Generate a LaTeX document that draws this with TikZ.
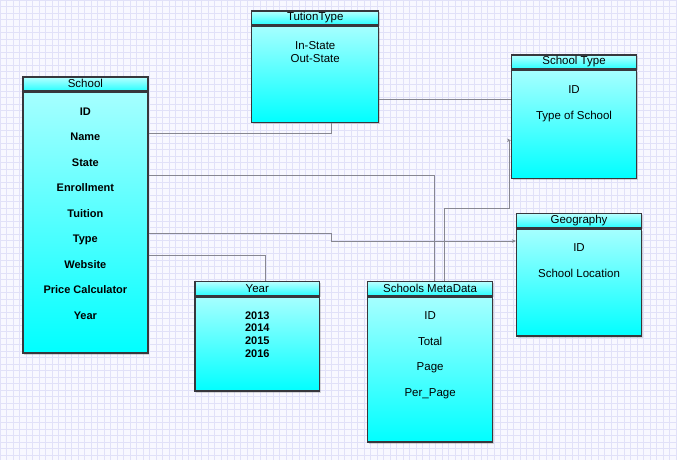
\documentclass[tikz,border=0pt]{standalone}
\usepackage{fontspec}
\setmainfont{Liberation Sans}
\usetikzlibrary{positioning,arrows.meta,shadows}
\definecolor{PaperBg}{RGB}{248,248,255}
\definecolor{GridLav}{RGB}{225,225,248}
\definecolor{LinkGray}{RGB}{135,135,145}
\definecolor{BoxEdge}{RGB}{55,55,60}

\begin{document}
\begin{tikzpicture}[
    x=1pt, y=-1pt,
    font=\fontsize{11.5}{13}\selectfont,
    >={Stealth[length=4pt,width=3.5pt]},
    thead/.style={
        draw=BoxEdge,
        line width=1.4pt,
        top color=cyan!28!white,
        bottom color=cyan!85!white,
        minimum width=125pt,
        minimum height=14pt,
        inner sep=0pt,
        anchor=north west,
        drop shadow={opacity=0.3,shadow xshift=1.5pt,shadow yshift=-1.5pt}
    },
    tbody/.style={
        draw=BoxEdge,
        line width=1.4pt,
        top color=cyan!35!white,
        bottom color=cyan,
        minimum width=125pt,
        inner sep=0pt,
        anchor=north west,
        drop shadow={opacity=0.3,shadow xshift=1.5pt,shadow yshift=-1.5pt}
    },
    fields/.style={
        align=center,
        inner sep=0pt
    },
    link/.style={
        draw=LinkGray,
        line width=0.8pt
    }
]

% paper and grid
\fill[PaperBg] (0,0) rectangle (677,460);
\foreach \gx in {0,6.5,...,677} \draw[GridLav, line width=0.5pt] (\gx,0) -- (\gx,460);
\foreach \gy in {0,6.5,...,460} \draw[GridLav, line width=0.5pt] (0,\gy) -- (677,\gy);
\useasboundingbox (0,0) rectangle (677,460);

% tables
\node[thead] (schoolhead) at (22,76) {School};
\node[tbody, minimum height=261pt] (school) at (schoolhead.south west) {};
\node[fields, below=16pt of school.north, font=\bfseries\fontsize{11}{25.5}\selectfont]
    (schoolfields) {ID\\Name\\State\\Enrollment\\Tuition\\Type\\Website\\Price Calculator\\Year};

\node[thead, minimum width=127pt] (tutionhead) at (251,10) {TutionType};
\node[tbody, minimum width=127pt, minimum height=96pt] (tution) at (tutionhead.south west) {};
\node[fields, below=16pt of tution.north, font=\fontsize{11.5}{13}\selectfont]
    (tutionfields) {In-State\\Out-State};

\node[thead] (stypehead) at (511,54) {School Type};
\node[tbody, minimum height=108pt] (stype) at (stypehead.south west) {};
\node[fields, below=16pt of stype.north, font=\fontsize{11.5}{26}\selectfont]
    (stypefields) {ID\\Type of School};

\node[thead] (geohead) at (516,213) {Geography};
\node[tbody, minimum height=107pt] (geo) at (geohead.south west) {};
\node[fields, below=15pt of geo.north, font=\fontsize{11.5}{26}\selectfont]
    (geofields) {ID\\School Location};

\node[thead] (yearhead) at (194,281) {Year};
\node[tbody, minimum height=94pt] (year) at (yearhead.south west) {};
\node[fields, below=15pt of year.north, font=\bfseries\fontsize{11}{12.7}\selectfont]
    (yearfields) {2013\\2014\\2015\\2016};

\node[thead] (metahead) at (367,281) {Schools MetaData};
\node[tbody, minimum height=145pt] (meta) at (metahead.south west) {};
\node[fields, below=15pt of meta.north, font=\fontsize{11.5}{25.6}\selectfont]
    (metafields) {ID\\Total\\Page\\Per\_Page};

% connectors
\coordinate (bendmeta) at (510,208);
\coordinate (bendgeo) at (331,241);

\draw[link] ([yshift=-42pt]school.north east) -| ([xshift=16.5pt]tution.south);
\draw[link] ([yshift=-25pt]tution.east) -- ([yshift=-25pt]tution.east -| stype.west);
\draw[link] ([yshift=-84pt]school.north east) -| ([xshift=4.5pt]metahead.north);
\draw[link,->] ([xshift=14.5pt]metahead.north) |- (bendmeta) |- ([yshift=-16pt]stype.west);
\draw[link,->] ([yshift=-142pt]school.north east) -| (bendgeo) -- (bendgeo -| geo.west);
\draw[link] ([yshift=-164pt]school.north east) -| ([xshift=8.5pt]yearhead.north);

\end{tikzpicture}
\end{document}
